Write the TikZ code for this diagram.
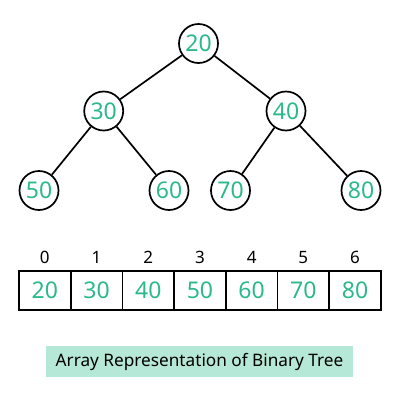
\documentclass[tikz,border=0pt]{standalone}
\usepackage{fontspec}
\setmainfont{Noto Sans}
\definecolor{numgreen}{HTML}{2BB98C}
\definecolor{labelfill}{HTML}{B6E8D8}
\tikzset{
  treenode/.style={circle,draw=black,line width=1.7pt,fill=white,minimum size=39pt,inner sep=0pt,text=numgreen,font=\fontsize{23}{23}\selectfont},
  edge/.style={line width=1.7pt,draw=black},
  cell/.style={rectangle,draw=black,line width=1.8pt,minimum width=51.7pt,minimum height=39.5pt,inner sep=0pt,text=numgreen,font=\fontsize{23}{23}\selectfont},
  idx/.style={font=\fontsize{17}{17}\selectfont,text=black,inner sep=0pt},
  caption/.style={rectangle,fill=labelfill,minimum width=307pt,minimum height=31pt,inner sep=0pt,font=\fontsize{17.2}{17.2}\selectfont}
}
\begin{document}
\begin{tikzpicture}[x=1pt,y=-1pt]
\useasboundingbox (0,0) rectangle (400,400);
\node[treenode] (n20) at (198.5,43.5) {20};
\node[treenode] (n30) at (103.7,111) {30};
\node[treenode] (n40) at (286,111) {40};
\node[treenode] (n50) at (39,190.5) {50};
\node[treenode] (n60) at (169,190.5) {60};
\node[treenode] (n70) at (230.5,190.5) {70};
\node[treenode] (n80) at (361,190.5) {80};
\draw[edge] (n20) -- (n30);
\draw[edge] (n20) -- (n40);
\draw[edge] (n30) -- (n50);
\draw[edge] (n30) -- (n60);
\draw[edge] (n40) -- (n70);
\draw[edge] (n40) -- (n80);
\foreach \i/\v in {0/20,1/30,2/40,3/50,4/60,5/70,6/80}{
  \node[cell] (c\i) at ({19+25.85+51.7*\i},290.5) {\v};
  \node[idx] (i\i) at ({19+25.85+51.7*\i},257.5) {\i};
}
\node[caption] (cap) at (199.5,361.5) {Array Representation of Binary Tree};
\end{tikzpicture}
\end{document}
